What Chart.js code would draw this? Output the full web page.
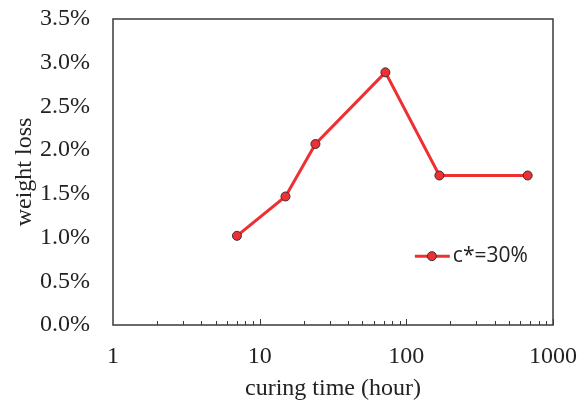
<!DOCTYPE html>
<html>
<head>
<meta charset="utf-8">
<script src="https://cdn.jsdelivr.net/npm/chart.js@4/dist/chart.umd.min.js"></script>
<style>
  html, body { margin: 0; padding: 0; background: #fff; }
  #wrap { width: 587px; height: 401px; position: relative; }
</style>
</head>
<body>
<div id="wrap"><canvas id="chart"></canvas></div>
<script>
// Data
const SERIES_LABEL = 'c*=30%';
const CURING_HOURS = [7, 15, 24, 72, 168, 672];
const WEIGHT_LOSS = [1.02, 1.47, 2.07, 2.89, 1.71, 1.71]; // percent
const X_TICKS = [1, 10, 100, 1000];
const Y_MIN = 0;
const Y_MAX = 3.5;
const Y_STEP = 0.5;

const SERIF = "'Liberation Serif', 'DejaVu Serif', serif";
const FRAME = '#3a3a3a';
const RED = '#ee2f33';

// box around the plot + inward minor ticks on the log axis
const framePlugin = {
  id: 'frame',
  afterDraw(chart) {
    const { ctx, chartArea: a } = chart;
    const x = chart.scales.x;
    ctx.save();
    ctx.strokeStyle = FRAME;
    ctx.lineWidth = 1.5;
    ctx.strokeRect(a.left, a.top, a.right - a.left, a.bottom - a.top);
    ctx.lineWidth = 1;
    for (let d = 1; d < 1000; d *= 10) {
      for (let m = 2; m <= 10; m++) {
        const px = Math.round(x.getPixelForValue(d * m)) + 0.5;
        const len = m === 10 ? 6 : 4;
        ctx.beginPath();
        ctx.moveTo(px, a.bottom);
        ctx.lineTo(px, a.bottom - len);
        ctx.stroke();
      }
    }
    ctx.restore();
  }
};

// legend drawn inside the plot area
const insideLegend = {
  id: 'insideLegend',
  afterDatasetsDraw(chart, args, opts) {
    const { ctx, chartArea: a } = chart;
    const ds = chart.data.datasets[0];
    const x0 = a.left + opts.fx * (a.right - a.left);
    const y0 = a.top + opts.fy * (a.bottom - a.top);
    ctx.save();
    ctx.strokeStyle = ds.borderColor;
    ctx.lineWidth = ds.borderWidth;
    ctx.beginPath();
    ctx.moveTo(x0, y0);
    ctx.lineTo(x0 + 35, y0);
    ctx.stroke();
    ctx.beginPath();
    ctx.arc(x0 + 17, y0, ds.pointRadius, 0, Math.PI * 2);
    ctx.fillStyle = ds.pointBackgroundColor;
    ctx.fill();
    ctx.lineWidth = ds.pointBorderWidth;
    ctx.strokeStyle = ds.pointBorderColor;
    ctx.stroke();
    ctx.fillStyle = '#222';
    ctx.font = "21px 'Open Sans', sans-serif";
    ctx.textBaseline = 'middle';
    ctx.fillText(ds.label, x0 + 38, y0);
    ctx.restore();
  }
};

new Chart(document.getElementById('chart'), {
  type: 'line',
  data: {
    datasets: [{
      label: SERIES_LABEL,
      data: CURING_HOURS.map((h, i) => ({ x: h, y: WEIGHT_LOSS[i] })),
      borderColor: RED,
      borderWidth: 3,
      pointRadius: 4.5,
      pointBackgroundColor: RED,
      pointBorderColor: '#333',
      pointBorderWidth: 1,
      tension: 0
    }]
  },
  options: {
    responsive: true,
    maintainAspectRatio: false,
    animation: false,
    layout: { padding: { top: 19, right: 34, left: 0, bottom: 0 } },
    plugins: {
      legend: { display: false },
      tooltip: { enabled: false },
      insideLegend: { fx: 0.686, fy: 0.775 }
    },
    scales: {
      x: {
        type: 'logarithmic',
        min: 1,
        max: 1000,
        afterBuildTicks: (s) => { s.ticks = X_TICKS.map(v => ({ value: v })); },
        afterFit: (s) => { s.height = 76; s.paddingLeft = 0; s.paddingRight = 0; },
        border: { display: false },
        grid: { display: false },
        ticks: {
          color: '#222',
          font: { family: SERIF, size: 24 },
          padding: 9,
          maxRotation: 0,
          autoSkip: false,
          callback: (v) => String(v)
        },
        title: {
          display: true,
          text: 'curing time (hour)',
          color: '#222',
          font: { family: SERIF, size: 24, lineHeight: 1 },
          padding: { top: 0, bottom: 0 }
        }
      },
      y: {
        min: Y_MIN,
        max: Y_MAX,
        afterFit: (s) => { s.width = 113; s.paddingTop = 0; s.paddingBottom = 0; },
        border: { display: false },
        grid: { display: false },
        ticks: {
          stepSize: Y_STEP,
          color: '#222',
          font: { family: SERIF, size: 24 },
          padding: 15,
          callback: (v) => v.toFixed(1) + '%'
        },
        title: {
          display: true,
          text: 'weight loss',
          color: '#222',
          font: { family: SERIF, size: 24, lineHeight: 1 },
          padding: { top: 13, bottom: 0 }
        }
      }
    }
  },
  plugins: [framePlugin, insideLegend]
});
</script>
</body>
</html>
